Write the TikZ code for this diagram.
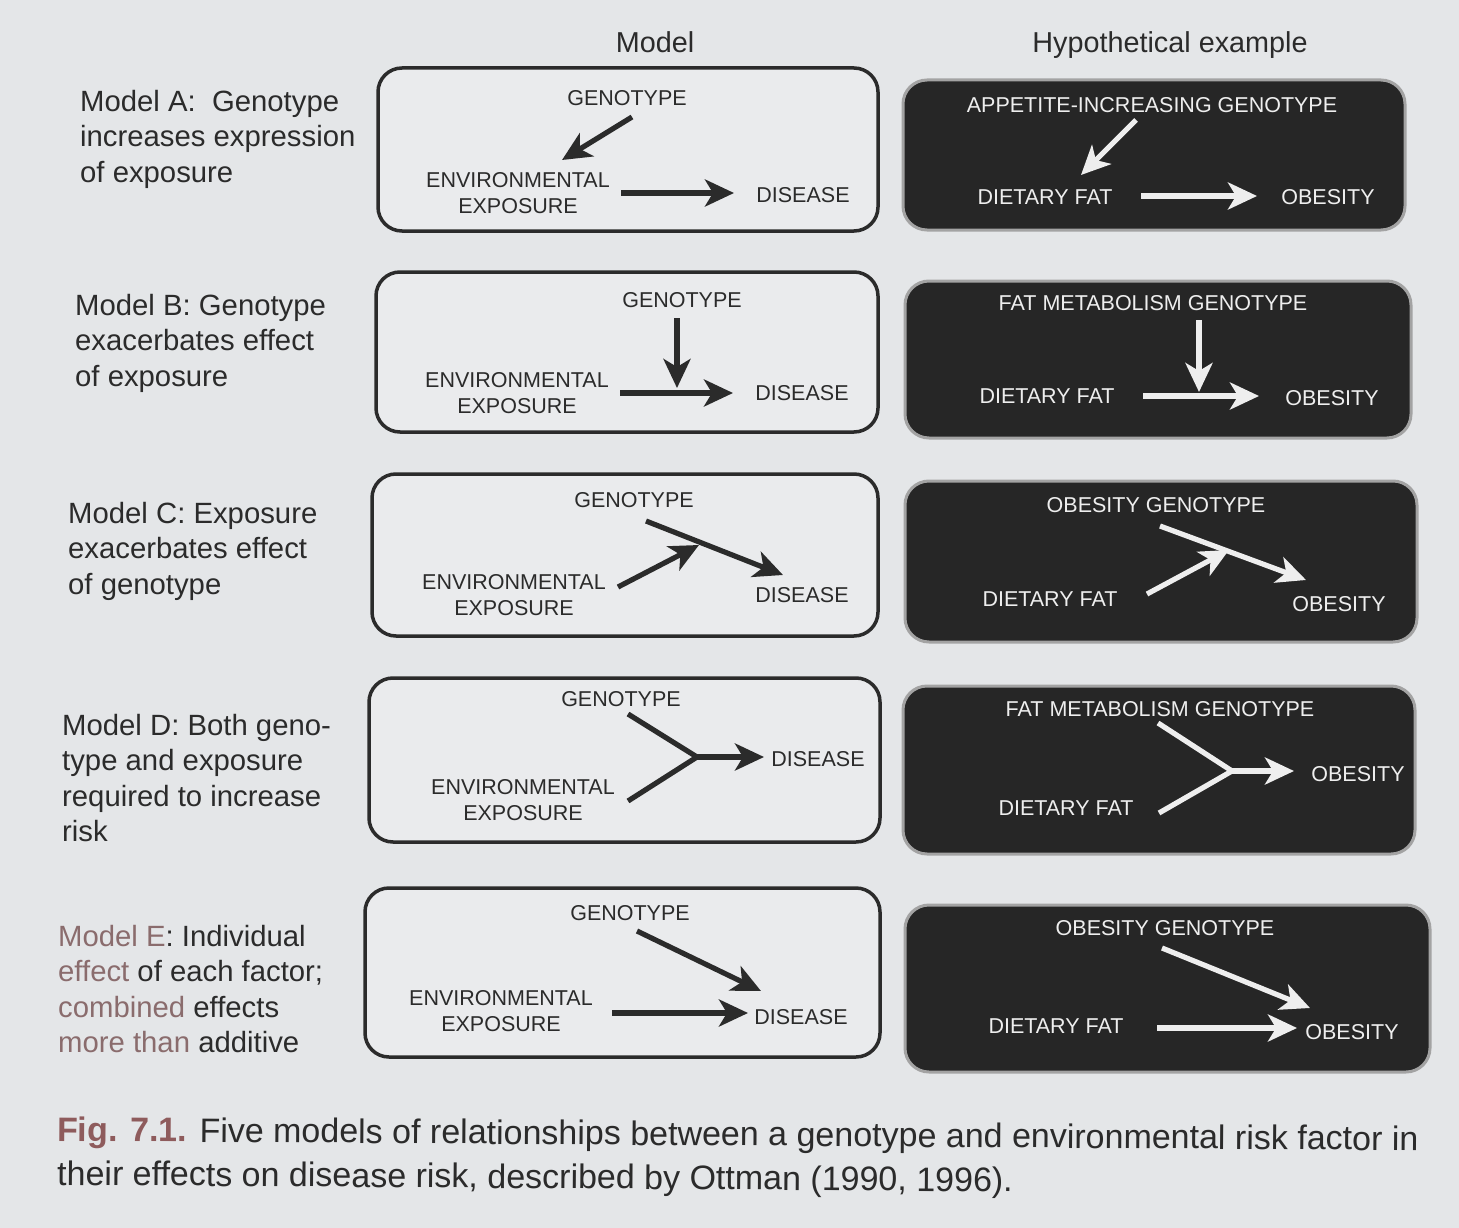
\documentclass[tikz,border=0pt]{standalone}
\usepackage{fontspec}
\setmainfont{Liberation Sans}
\usetikzlibrary{arrows.meta}
\definecolor{page}{HTML}{E4E6E8}
\definecolor{ink}{HTML}{2B2B2B}
\definecolor{boxfill}{HTML}{EAEBED}
\definecolor{darkfill}{HTML}{262626}
\definecolor{darkedge}{HTML}{A3A3A3}
\definecolor{wht}{HTML}{EEEEEE}
\definecolor{figred}{HTML}{8E5B5C}
\definecolor{erose}{HTML}{8A6C6D}
\begin{document}
\begin{tikzpicture}[x=1pt,y=-1pt,
  lbox/.style={draw=ink, line width=3.5pt, fill=boxfill, rounded corners=24pt},
  dbox/.style={draw=darkedge, line width=3pt, fill=darkfill, rounded corners=24pt},
  ltxt/.style={text=ink, font=\fontsize{21.5}{26.5}\selectfont, inner sep=0pt, align=center},
  dtxt/.style={text=wht, font=\fontsize{21.5}{26.5}\selectfont, inner sep=0pt, align=center},
  side/.style={text=ink, font=\fontsize{29.3}{35.5}\selectfont, inner sep=0pt, align=left, anchor=west},
  head/.style={text=ink, font=\fontsize{28.8}{33}\selectfont, inner sep=0pt},
  capt/.style={text=ink, font=\fontsize{34}{40}\selectfont, inner sep=0pt, anchor=base west, rotate=-0.4},
  lline/.style={draw=ink, line width=5.2pt, line join=round},
  dline/.style={draw=wht, line width=5.2pt, line join=round},
  larr/.style={lline, -{Stealth[length=29pt,width=27pt,inset=8pt]}},
  darr/.style={dline, -{Stealth[length=29pt,width=27pt,inset=8pt]}}
]
\useasboundingbox (0,0) rectangle (1459,1228);
\fill[page] (0,0) rectangle (1459,1228);

% headings
\node[head] (hmodel) at (655,42) {Model};
\node[head] (hexample) at (1170,45) {Hypothetical example};

% side labels
\node[side] (labA) at (80,139) {Model A:\ \ Genotype\\increases expression\\of exposure};
\node[side] (labB) at (75,343) {Model B: Genotype\\exacerbates effect\\of exposure};
\node[side] (labC) at (68,551) {Model C: Exposure\\exacerbates effect\\of genotype};
\node[side] (labD) at (62,778) {Model D: Both geno-\\type and exposure\\required to increase\\risk};
\node[side] (labE) at (58,989) {\textcolor{erose}{Model E}: Individual\\\textcolor{erose}{effect} of each factor;\\\textcolor{erose}{combined} effects\\\textcolor{erose}{more than} additive};

% ---------- Row A ----------
\draw[lbox] (378,68) rectangle (878,231);
\draw[dbox] (903,80) rectangle (1405,230);
\node[ltxt] (Ag) at (627,98) {GENOTYPE};
\node[ltxt] (Ae) at (518,193) {ENVIRONMENTAL\\EXPOSURE};
\node[ltxt] (Ad) at (803,195) {DISEASE};
\coordinate (Ag0) at (632,117); \coordinate (Ag1) at (562,160);
\coordinate (Ae0) at (621,193); \coordinate (Ae1) at (734,193);
\draw[larr] (Ag0) -- (Ag1);
\draw[larr] (Ae0) -- (Ae1);
\node[dtxt] (Xg) at (1152,105) {APPETITE-INCREASING GENOTYPE};
\node[dtxt] (Xf) at (1045,197) {DIETARY FAT};
\node[dtxt] (Xo) at (1328,197) {OBESITY};
\coordinate (Xg0) at (1136,120); \coordinate (Xg1) at (1081,175);
\coordinate (Xf0) at (1141,196); \coordinate (Xf1) at (1257,196);
\draw[darr] (Xg0) -- (Xg1);
\draw[darr] (Xf0) -- (Xf1);

% ---------- Row B ----------
\draw[lbox] (376,272) rectangle (878,432);
\draw[dbox] (905,281) rectangle (1411,438);
\node[ltxt] (Bg) at (682,300) {GENOTYPE};
\node[ltxt] (Be) at (517,393) {ENVIRONMENTAL\\EXPOSURE};
\node[ltxt] (Bd) at (802,393) {DISEASE};
\coordinate (Bg0) at (677,318); \coordinate (Bg1) at (677,388);
\coordinate (Be0) at (620,393); \coordinate (Be1) at (733,393);
\draw[larr] (Bg0) -- (Bg1);
\draw[larr] (Be0) -- (Be1);
\node[dtxt] (Yg) at (1153,303) {FAT METABOLISM GENOTYPE};
\node[dtxt] (Yf) at (1047,396) {DIETARY FAT};
\node[dtxt] (Yo) at (1332,398) {OBESITY};
\coordinate (Yg0) at (1199,320); \coordinate (Yg1) at (1199,392);
\coordinate (Yf0) at (1143,396); \coordinate (Yf1) at (1259,396);
\draw[darr] (Yg0) -- (Yg1);
\draw[darr] (Yf0) -- (Yf1);

% ---------- Row C ----------
\draw[lbox] (372,474) rectangle (878,636);
\draw[dbox] (905,481) rectangle (1417,642);
\node[ltxt] (Cg) at (634,500) {GENOTYPE};
\node[ltxt] (Ce) at (514,595) {ENVIRONMENTAL\\EXPOSURE};
\node[ltxt] (Cd) at (802,595) {DISEASE};
\coordinate (Cg0) at (646,521); \coordinate (Cg1) at (783,575);
\coordinate (Ce0) at (618,587); \coordinate (Ce1) at (699,545);
\draw[larr] (Cg0) -- (Cg1);
\draw[larr] (Ce0) -- (Ce1);
\node[dtxt] (Zg) at (1156,505) {OBESITY GENOTYPE};
\node[dtxt] (Zf) at (1050,599) {DIETARY FAT};
\node[dtxt] (Zo) at (1339,604) {OBESITY};
\coordinate (Zg0) at (1160,526); \coordinate (Zg1) at (1306,580);
\coordinate (Zf0) at (1147,594); \coordinate (Zf1) at (1229,550);
\draw[darr] (Zg0) -- (Zg1);
\draw[darr] (Zf0) -- (Zf1);

% ---------- Row D ----------
\draw[lbox] (369,678) rectangle (880,842);
\draw[dbox] (903,686) rectangle (1415,854);
\node[ltxt] (Dg) at (621,699) {GENOTYPE};
\node[ltxt] (De) at (523,800) {ENVIRONMENTAL\\EXPOSURE};
\node[ltxt] (Dd) at (818,759) {DISEASE};
\coordinate (Dg0) at (628,714); \coordinate (Dj) at (697,757);
\coordinate (De0) at (628,801); \coordinate (Dd1) at (764,757);
\draw[lline] (Dg0) -- (Dj) -- (De0);
\draw[larr] (Dj) -- (Dd1);
\node[dtxt] (Wg) at (1160,709) {FAT METABOLISM GENOTYPE};
\node[dtxt] (Wf) at (1066,808) {DIETARY FAT};
\node[dtxt] (Wo) at (1358,774) {OBESITY};
\coordinate (Wg0) at (1158,723); \coordinate (Wj) at (1232,771);
\coordinate (Wf0) at (1159,813); \coordinate (Wo1) at (1294,771);
\draw[dline] (Wg0) -- (Wj) -- (Wf0);
\draw[darr] (Wj) -- (Wo1);

% ---------- Row E ----------
\draw[lbox] (365,888) rectangle (880,1057);
\draw[dbox] (905,905) rectangle (1430,1072);
\node[ltxt] (Eg) at (630,913) {GENOTYPE};
\node[ltxt] (Ee) at (501,1011) {ENVIRONMENTAL\\EXPOSURE};
\node[ltxt] (Ed) at (801,1017) {DISEASE};
\coordinate (Eg0) at (637,931); \coordinate (Eg1) at (761,991);
\coordinate (Ee0) at (612,1013); \coordinate (Ee1) at (748,1013);
\draw[larr] (Eg0) -- (Eg1);
\draw[larr] (Ee0) -- (Ee1);
\node[dtxt] (Vg) at (1165,928) {OBESITY GENOTYPE};
\node[dtxt] (Vf) at (1056,1026) {DIETARY FAT};
\node[dtxt] (Vo) at (1352,1032) {OBESITY};
\coordinate (Vg0) at (1162,948); \coordinate (Vg1) at (1310,1008);
\coordinate (Vf0) at (1157,1028); \coordinate (Vf1) at (1297,1028);
\draw[darr] (Vg0) -- (Vg1);
\draw[darr] (Vf0) -- (Vf1);

% caption
\node[capt] (cap1) at (57,1141) {\textcolor{figred}{\textbf{Fig. 7.1.}} Five models of relationships between a genotype and environmental risk factor in};
\node[capt] (cap2) at (57,1185) {their effects on disease risk, described by Ottman (1990, 1996).};
\end{tikzpicture}
\end{document}
